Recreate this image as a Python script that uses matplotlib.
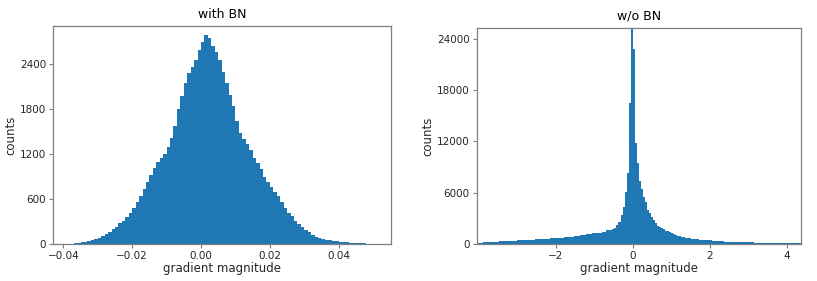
import numpy as np
import matplotlib
matplotlib.use("Agg")
import matplotlib.pyplot as plt

# ---- data: "with BN" histogram (bin width 0.001, first bin centre -0.0395)
bn_bin_start = -0.0400
bn_bin_width = 0.001
bn_counts = [
    2, 4, 6, 9, 13, 20, 28, 38, 52, 68,
    85, 110, 135, 165, 195, 230, 275, 310, 355, 410,
    480, 560, 640, 740, 830, 920, 1020, 1100, 1150, 1200,
    1290, 1420, 1580, 1800, 1980, 2150, 2280, 2370, 2460, 2590,
    2700, 2790, 2760, 2650, 2560, 2460, 2300, 2150, 1990, 1840,
    1640, 1480, 1400, 1330, 1260, 1150, 1080, 1000, 900, 830,
    760, 700, 640, 560, 480, 420, 370, 310, 265, 225,
    190, 155, 125, 100, 80, 65, 55, 48, 40, 34,
    28, 24, 20, 17, 14, 12, 10, 8, 6, 4,
    3,
]

# ---- data: "w/o BN" histogram (160 bins between -4.06 and 4.36)
nobn_range = (-4.06, 4.36)
nobn_counts = [
    150, 160, 170, 185, 195, 205, 220, 235, 250, 265,
    280, 295, 310, 325, 340, 355, 370, 380, 390, 400,
    410, 420, 435, 450, 465, 480, 495, 510, 525, 540,
    555, 570, 585, 600, 615, 630, 650, 665, 685, 700,
    720, 740, 760, 780, 800, 825, 850, 875, 900, 935,
    970, 1010, 1050, 1090, 1130, 1170, 1210, 1250, 1280, 1300,
    1320, 1340, 1360, 1420, 1600, 1650, 1680, 1800, 1860, 2220,
    2610, 3400, 4370, 6120, 8280, 16470, 27000, 22790, 11790, 9450,
    7380, 6400, 5500, 4950, 3980, 3590, 3200, 2810, 2420, 2100,
    1950, 1880, 1760, 1560, 1480, 1400, 1340, 1135, 1000, 940,
    880, 850, 800, 760, 720, 680, 640, 600, 570, 540,
    520, 500, 480, 460, 440, 420, 400, 380, 360, 340,
    320, 300, 280, 270, 260, 250, 240, 230, 220, 210,
    205, 200, 195, 190, 185, 180, 175, 170, 170, 165,
    165, 160, 160, 155, 155, 150, 150, 150, 145, 145,
    140, 140, 135, 135, 130, 125, 120, 115, 110, 100,
]

titles = ["with BN", "w/o BN"]
xlabel = "gradient magnitude"
ylabel = "counts"
left_yticks = [0, 600, 1200, 1800, 2400]
left_xticks = [-0.04, -0.02, 0.00, 0.02, 0.04]
right_yticks = [0, 6000, 12000, 18000, 24000]
right_xticks = [-2, 0, 2, 4]

color = "#1f77b4"
spine_c = "#7f7f7f"
text_c = "#262626"

fig = plt.figure(figsize=(8.17, 2.81), dpi=100)
ax1 = fig.add_axes([0.0649, 0.1317, 0.4137, 0.7758])
ax2 = fig.add_axes([0.5835, 0.1317, 0.3966, 0.7676])

# left histogram
edges1 = bn_bin_start + bn_bin_width * np.arange(len(bn_counts) + 1)
ax1.stairs(bn_counts, edges1, fill=True, color=color, linewidth=0)
ax1.set_xlim(-0.043, 0.0552)
ax1.set_ylim(0, 2914)
ax1.set_xticks(left_xticks)
ax1.set_xticklabels([f"{v:.2f}".replace("-", "\u2212") for v in left_xticks])
ax1.set_yticks(left_yticks)

# right histogram
edges2 = np.linspace(nobn_range[0], nobn_range[1], len(nobn_counts) + 1)
ax2.stairs(nobn_counts, edges2, fill=True, color=color, linewidth=0)
ax2.set_xlim(*nobn_range)
ax2.set_ylim(0, 25250)
ax2.set_xticks(right_xticks)
ax2.set_yticks(right_yticks)

for ax, t in zip([ax1, ax2], titles):
    ax.set_title(t, fontsize=9, color="black", pad=6)
    ax.set_xlabel(xlabel, fontsize=8.5, color=text_c, labelpad=1)
    ax.set_ylabel(ylabel, fontsize=8.5, color=text_c, labelpad=2)
    ax.tick_params(labelsize=7.5, colors=text_c, length=3, width=0.8, pad=2)
    for s in ax.spines.values():
        s.set_color(spine_c)
        s.set_linewidth(0.9)
    ax.tick_params(color=spine_c)

fig.savefig("out.png", dpi=100)
